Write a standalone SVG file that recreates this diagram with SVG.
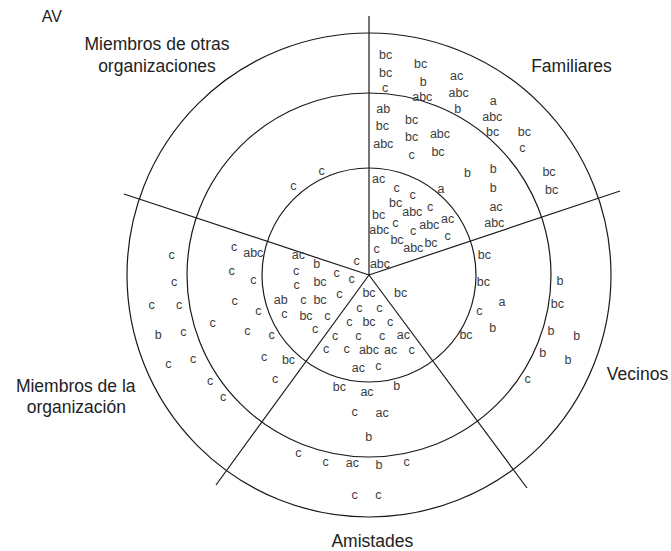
<svg xmlns="http://www.w3.org/2000/svg" width="671" height="551" viewBox="0 0 671 551">
<style>
.ring{fill:none;stroke:#1a1a1a;stroke-width:1.2}
.sp{stroke:#1a1a1a;stroke-width:1.2;fill:none}
text{font-family:"Liberation Sans",Arial,sans-serif}
.t{font-size:12.5px;fill:#3c3c3c;text-anchor:middle}
.L{font-size:17.5px;fill:#222;text-anchor:middle}
</style>
<rect width="671" height="551" fill="#fff"/>
<g id="rings">
<circle class="ring" cx="369" cy="275" r="242"/>
<circle class="ring" cx="369" cy="275" r="182"/>
<circle class="ring" cx="369" cy="275" r="107"/>
</g>
<g id="connectors">
<line class="sp" x1="369" y1="275" x2="369" y2="16"/>
<line class="sp" x1="369" y1="275" x2="620" y2="191"/>
<line class="sp" x1="369" y1="275" x2="124" y2="194"/>
<line class="sp" x1="369" y1="275" x2="216" y2="485"/>
<line class="sp" x1="369" y1="275" x2="527" y2="488"/>
</g>
<text x="41.7" y="22" style="font-size:16px;fill:#222">AV</text>
<g id="otras">
<text class="L" x="157" y="50">Miembros de otras</text>
<text class="L" x="157" y="72">organizaciones</text>
<text class="t" x="321.7" y="175">c</text>
<text class="t" x="293.3" y="190">c</text>
<text class="t" x="356.7" y="265">c</text>
</g>
<g id="familiares">
<text class="L" x="571.5" y="72">Familiares</text>
<text class="t" x="385.7" y="59">bc</text>
<text class="t" x="385.7" y="77">bc</text>
<text class="t" x="385" y="91.7">c</text>
<text class="t" x="420.7" y="68.3">bc</text>
<text class="t" x="423.3" y="86">b</text>
<text class="t" x="422.3" y="100.7">abc</text>
<text class="t" x="456.7" y="80">ac</text>
<text class="t" x="458.7" y="97.3">abc</text>
<text class="t" x="457.7" y="113.3">b</text>
<text class="t" x="493.3" y="105">a</text>
<text class="t" x="492.3" y="120.7">abc</text>
<text class="t" x="492.7" y="136">bc</text>
<text class="t" x="524.3" y="136">bc</text>
<text class="t" x="522.3" y="151.7">c</text>
<text class="t" x="549" y="175.5">bc</text>
<text class="t" x="551.7" y="194">bc</text>
<text class="t" x="383.3" y="113.3">ab</text>
<text class="t" x="382.3" y="130">bc</text>
<text class="t" x="383.3" y="147.7">abc</text>
<text class="t" x="411.7" y="124">bc</text>
<text class="t" x="411.7" y="140.7">bc</text>
<text class="t" x="411.7" y="159.3">c</text>
<text class="t" x="440" y="138.3">abc</text>
<text class="t" x="438" y="156">bc</text>
<text class="t" x="467.5" y="177">b</text>
<text class="t" x="493.3" y="173">b</text>
<text class="t" x="493.3" y="192.3">b</text>
<text class="t" x="496" y="210.5">ac</text>
<text class="t" x="494.3" y="227">abc</text>
<text class="t" x="378.7" y="182.7">ac</text>
<text class="t" x="396.7" y="191.7">c</text>
<text class="t" x="412.7" y="199.3">c</text>
<text class="t" x="441" y="192.7">a</text>
<text class="t" x="395.7" y="207.3">bc</text>
<text class="t" x="412.3" y="216">abc</text>
<text class="t" x="430" y="211">c</text>
<text class="t" x="378.7" y="219.3">bc</text>
<text class="t" x="395.3" y="226.7">c</text>
<text class="t" x="379.3" y="234.3">abc</text>
<text class="t" x="413" y="235">c</text>
<text class="t" x="429.3" y="229.3">abc</text>
<text class="t" x="447.7" y="223.3">ac</text>
<text class="t" x="397" y="244">bc</text>
<text class="t" x="413.3" y="251.7">abc</text>
<text class="t" x="431" y="246.7">bc</text>
<text class="t" x="447.7" y="240">c</text>
<text class="t" x="376.7" y="253.3">c</text>
<text class="t" x="380" y="268.3">abc</text>
</g>
<g id="vecinos">
<text class="L" x="637.5" y="380">Vecinos</text>
<text class="t" x="484.3" y="259">bc</text>
<text class="t" x="483.3" y="286">bc</text>
<text class="t" x="479.3" y="314.5">c</text>
<text class="t" x="502" y="306">a</text>
<text class="t" x="492.7" y="332">b</text>
<text class="t" x="466" y="339">bc</text>
<text class="t" x="400.7" y="297.3">bc</text>
<text class="t" x="560" y="285">b</text>
<text class="t" x="557.3" y="308">bc</text>
<text class="t" x="551" y="334.5">b</text>
<text class="t" x="576.7" y="340">b</text>
<text class="t" x="542.7" y="357">b</text>
<text class="t" x="568" y="364">b</text>
<text class="t" x="527.7" y="382.5">c</text>
</g>
<g id="amistades">
<text class="L" x="372.3" y="546.5">Amistades</text>
<text class="t" x="369" y="297.3">bc</text>
<text class="t" x="359.3" y="311.7">c</text>
<text class="t" x="379.3" y="311.7">c</text>
<text class="t" x="349.3" y="326">c</text>
<text class="t" x="369" y="326">bc</text>
<text class="t" x="390" y="326">c</text>
<text class="t" x="335" y="340">c</text>
<text class="t" x="358.3" y="340">c</text>
<text class="t" x="382" y="340">c</text>
<text class="t" x="403.3" y="339">ac</text>
<text class="t" x="326" y="353.3">c</text>
<text class="t" x="346.7" y="353.3">c</text>
<text class="t" x="369" y="354">abc</text>
<text class="t" x="390.7" y="354">ac</text>
<text class="t" x="411.7" y="354">c</text>
<text class="t" x="358.3" y="371.7">ac</text>
<text class="t" x="378.3" y="370">c</text>
<text class="t" x="339.3" y="390.5">bc</text>
<text class="t" x="367" y="396">ac</text>
<text class="t" x="396.7" y="390">b</text>
<text class="t" x="354.5" y="416">c</text>
<text class="t" x="382.2" y="416.7">ac</text>
<text class="t" x="368.7" y="440.7">b</text>
<text class="t" x="298.3" y="457.3">c</text>
<text class="t" x="325.7" y="466">c</text>
<text class="t" x="352.3" y="467.3">ac</text>
<text class="t" x="379" y="469.3">b</text>
<text class="t" x="406.7" y="466">c</text>
<text class="t" x="354.7" y="499.3">c</text>
<text class="t" x="378.3" y="499.3">c</text>
</g>
<g id="organizacion">
<text class="L" x="75.7" y="391.7">Miembros de la</text>
<text class="L" x="76.3" y="413.3">organización</text>
<text class="t" x="171.7" y="259.3">c</text>
<text class="t" x="174" y="286">c</text>
<text class="t" x="151.7" y="309.3">c</text>
<text class="t" x="179" y="309.3">c</text>
<text class="t" x="158.3" y="339">b</text>
<text class="t" x="183.3" y="336">c</text>
<text class="t" x="168.3" y="367.5">c</text>
<text class="t" x="193" y="363.3">c</text>
<text class="t" x="210" y="385">c</text>
<text class="t" x="223" y="400.5">c</text>
<text class="t" x="234" y="251">c</text>
<text class="t" x="253.3" y="257">abc</text>
<text class="t" x="231.7" y="275">c</text>
<text class="t" x="253.3" y="284">c</text>
<text class="t" x="234.7" y="305">c</text>
<text class="t" x="258.3" y="315">c</text>
<text class="t" x="212.7" y="327.3">c</text>
<text class="t" x="247.3" y="335">c</text>
<text class="t" x="271.7" y="339">c</text>
<text class="t" x="264" y="360.7">c</text>
<text class="t" x="288.5" y="364">bc</text>
<text class="t" x="275" y="383.3">c</text>
<text class="t" x="298.3" y="259.3">ac</text>
<text class="t" x="316.7" y="268.3">b</text>
<text class="t" x="296" y="275">c</text>
<text class="t" x="336.7" y="277">c</text>
<text class="t" x="351.7" y="283">c</text>
<text class="t" x="296.7" y="289">c</text>
<text class="t" x="320" y="285.5">bc</text>
<text class="t" x="280.7" y="303.5">ab</text>
<text class="t" x="303.3" y="304">c</text>
<text class="t" x="320" y="303.5">bc</text>
<text class="t" x="339.3" y="298">c</text>
<text class="t" x="284.3" y="318">c</text>
<text class="t" x="306" y="320">bc</text>
<text class="t" x="327.3" y="320">c</text>
<text class="t" x="315" y="333">c</text>
</g>
</svg>
